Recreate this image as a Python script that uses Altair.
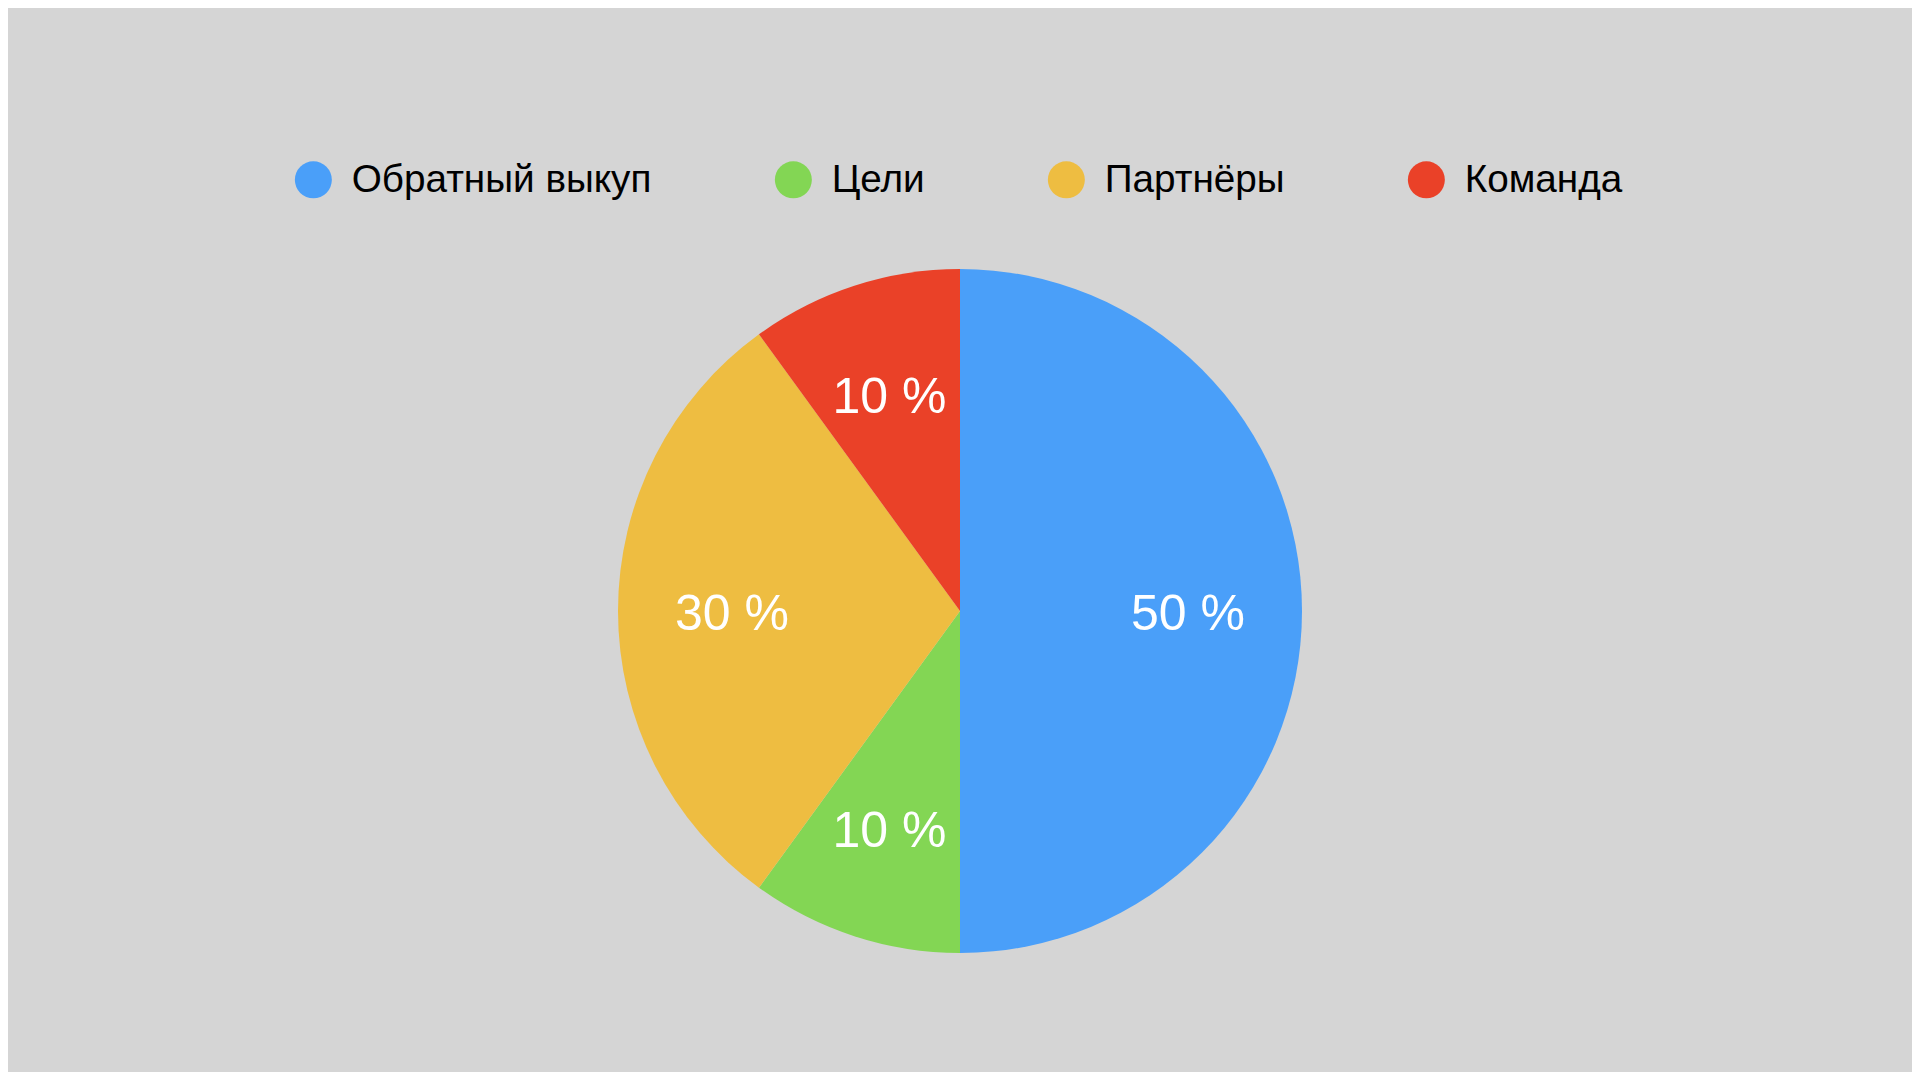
import altair as alt
import pandas as pd

categories = ["Обратный выкуп", "Цели", "Партнёры", "Команда"]
values = [50, 10, 30, 10]
labels = ["50 %", "10 %", "30 %", "10 %"]
colors = ["#4A9FF9", "#83D654", "#EEBD41", "#EA4128"]

df = pd.DataFrame({
    "category": categories,
    "value": values,
    "label": labels,
    "idx": list(range(len(categories))),
})

FONT = "Liberation Sans"

base = alt.Chart(df).encode(
    theta=alt.Theta("value:Q", stack=True),
    order=alt.Order("idx:Q"),
)

pie = base.mark_arc(outerRadius=342, stroke=None).encode(
    x=alt.value(952),
    y=alt.value(603),
    color=alt.Color(
        "category:N",
        scale=alt.Scale(domain=categories, range=colors),
        sort=categories,
        legend=alt.Legend(
            title=None,
            orient="none",
            legendX=286,
            legendY=152,
            direction="horizontal",
            columns=4,
            symbolType="circle",
            symbolSize=1369,
            symbolStrokeWidth=0,
            labelFont=FONT,
            labelFontSize=38.7,
            labelColor="#000000",
            labelOffset=19,
            columnPadding=122,
            labelLimit=600,
        ),
    ),
)

text = base.mark_text(
    radius=228,
    font=FONT,
    fontSize=50,
    color="white",
    align="center",
    baseline="middle",
    dy=4,
).encode(
    x=alt.value(952),
    y=alt.value(603),
    text="label:N",
)

chart = (
    alt.layer(pie, text)
    .properties(width=1904, height=1064, autosize=alt.AutoSizeParams(type="none"), padding=0,
                background="#D5D5D5")
    .configure_view(stroke=None, fill="#D5D5D5")
)

chart.save("out.html", embed_options={"renderer": "svg", "actions": False})
